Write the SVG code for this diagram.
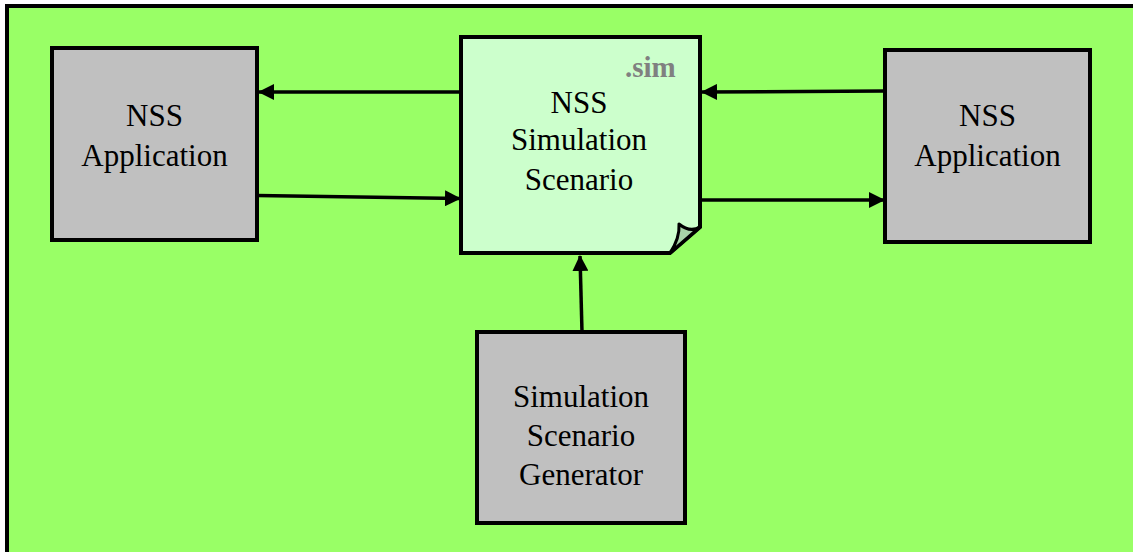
<svg xmlns="http://www.w3.org/2000/svg" width="1133" height="552" viewBox="0 0 1133 552">
<defs>
<marker id="ah" markerUnits="userSpaceOnUse" markerWidth="16" markerHeight="16" viewBox="0 0 16 16" refX="15" refY="8" orient="auto">
<path d="M0,0 L16,8 L0,16 Z" fill="#000"/>
</marker>
</defs>
<style>
.box{fill:#C0C0C0;stroke:#000;stroke-width:4}
.doc{fill:#CCFFCC;stroke:#000;stroke-width:4;stroke-linejoin:miter}
.lbl{font-family:"Liberation Serif","Times New Roman",serif;font-size:31px;fill:#000;text-anchor:middle}
.ext{font-family:"Liberation Serif","Times New Roman",serif;font-size:29px;font-weight:bold;fill:#808080}
.conn{stroke:#000;stroke-width:3.5;fill:none;marker-end:url(#ah)}
</style>
<rect x="7" y="6" width="1140" height="560" fill="#99FF66" stroke="#000" stroke-width="4"/>
<g id="app-left">
<rect class="box" x="52" y="48" width="205" height="192"/>
<text class="lbl" x="154.5" y="126">NSS</text>
<text class="lbl" x="154.5" y="166">Application</text>
</g>
<g id="app-right">
<rect class="box" x="885" y="50" width="205" height="192"/>
<text class="lbl" x="987.5" y="126">NSS</text>
<text class="lbl" x="987.5" y="166">Application</text>
</g>
<g id="scenario">
<path class="doc" d="M461,37 L700,37 L700,227 L670,253 L461,253 Z"/>
<path d="M670,253 L700,227 Q690,233 679,224 Q680,238 670,253 Z" fill="#A8D4A8" stroke="#000" stroke-width="3" stroke-linejoin="round"/>
<text class="ext" x="625" y="77">.sim</text>
<text class="lbl" x="579" y="113">NSS</text>
<text class="lbl" x="579" y="150">Simulation</text>
<text class="lbl" x="579" y="190">Scenario</text>
</g>
<g id="generator">
<rect class="box" x="477" y="332" width="208" height="191"/>
<text class="lbl" x="581" y="407">Simulation</text>
<text class="lbl" x="581" y="446">Scenario</text>
<text class="lbl" x="581" y="485">Generator</text>
</g>
<g id="connectors">
<line class="conn" x1="461" y1="92" x2="259" y2="92"/>
<line class="conn" x1="257" y1="195.5" x2="460" y2="198.5"/>
<line class="conn" x1="885" y1="91" x2="702" y2="92"/>
<line class="conn" x1="702" y1="200" x2="884" y2="200"/>
<line class="conn" x1="582" y1="332" x2="580" y2="256"/>
</g>
</svg>
